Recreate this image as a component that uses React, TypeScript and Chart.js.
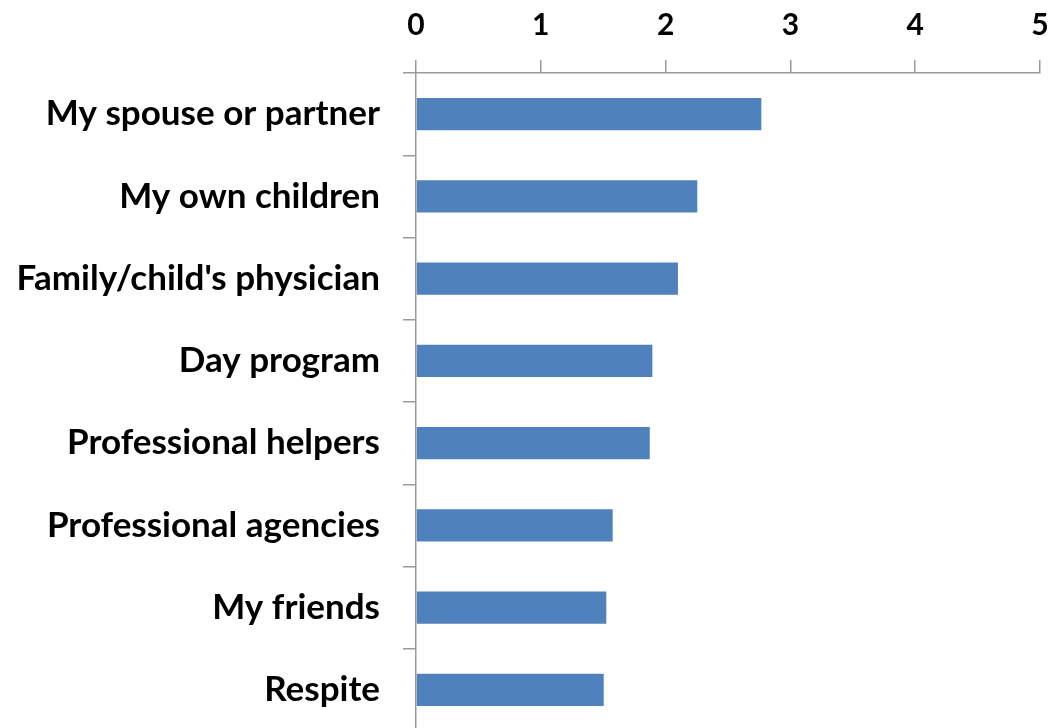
import React, { useEffect, useRef } from "react";
import { Chart, registerables } from "chart.js";

Chart.register(...registerables);

const categories = [
  "My spouse or partner",
  "My own children",
  "Family/child's physician",
  "Day program",
  "Professional helpers",
  "Professional agencies",
  "My friends",
  "Respite",
];
const values = [2.767, 2.254, 2.099, 1.894, 1.873, 1.576, 1.525, 1.504];
const xMin = 0;
const xMax = 5;
const xStep = 1;

const FONT = "Lato, 'Open Sans', sans-serif";
const AXIS_GRAY = "#9a9a9a";

export default function App() {
  const ref = useRef<HTMLCanvasElement>(null);
  useEffect(() => {
    if (!ref.current) return;
    const chart = new Chart(ref.current, {
      type: "bar",
      data: {
        labels: categories,
        datasets: [
          {
            data: values,
            backgroundColor: "#4f81bd",
            borderWidth: 0,
            barPercentage: 0.39,
            categoryPercentage: 1,
          },
        ],
      },
      options: {
        indexAxis: "y",
        responsive: false,
        animation: false,
        layout: { padding: { top: 0, right: 8, bottom: 0, left: 0 } },
        plugins: { legend: { display: false }, tooltip: { enabled: false } },
        scales: {
          x: {
            position: "top",
            min: xMin,
            max: xMax,
            ticks: {
              stepSize: xStep,
              color: "#000",
              padding: 17,
              font: { family: FONT, size: 30, weight: "bold" },
            },
            grid: {
              drawOnChartArea: false,
              drawTicks: true,
              tickLength: 13,
              color: AXIS_GRAY,
              lineWidth: 1.5,
            },
            border: { display: true, color: AXIS_GRAY, width: 1.5 },
            afterFit: (scale: any) => {
              scale.height = 73;
              scale.paddingLeft = 0;
              scale.paddingRight = 0;
            },
          },
          y: {
            ticks: {
              color: "#000",
              padding: 23,
              font: { family: FONT, size: 35, weight: "bold" },
            },
            grid: {
              offset: true,
              drawOnChartArea: false,
              drawTicks: true,
              tickLength: 13,
              color: AXIS_GRAY,
              lineWidth: 1.5,
            },
            border: { display: true, color: AXIS_GRAY, width: 1.5 },
            afterFit: (scale: any) => {
              scale.width = 416;
              scale.paddingTop = 0;
              scale.paddingBottom = 0;
            },
          },
        },
      },
    });
    return () => chart.destroy();
  }, []);
  return (
    <div
      style={{
        position: "fixed",
        left: 0,
        top: 0,
        width: 1048,
        height: 728,
        overflow: "hidden",
        background: "#fff",
      }}
    >
      <canvas ref={ref} width={1048} height={731} style={{ display: "block" }} />
    </div>
  );
}
